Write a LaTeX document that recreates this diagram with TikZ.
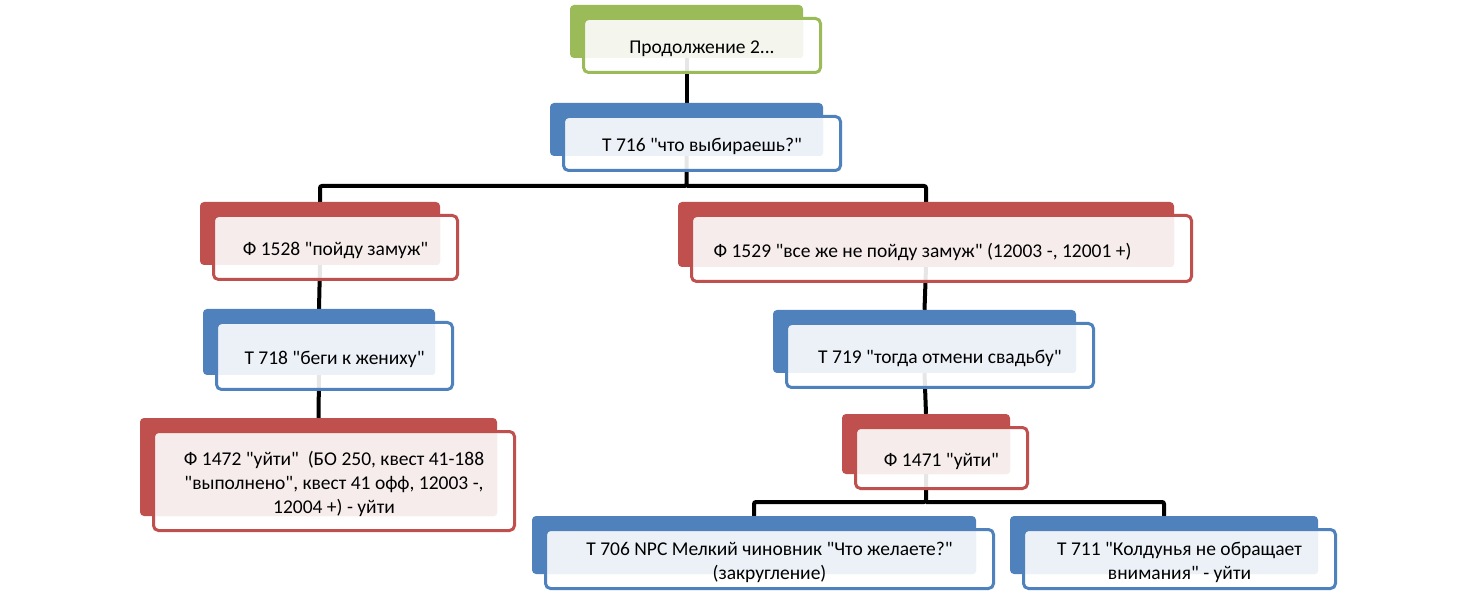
\documentclass[tikz,border=0pt]{standalone}
\usepackage{fontspec}
\setmainfont{Carlito}[Ligatures=TeXOff]
\usetikzlibrary{fit,backgrounds}
\definecolor{cgreen}{HTML}{9BBB59}
\definecolor{cblue}{HTML}{4F81BD}
\definecolor{cred}{HTML}{C0504D}
\definecolor{tgreen}{HTML}{F4F6EE}
\definecolor{tblue}{HTML}{ECF1F8}
\definecolor{tred}{HTML}{F6ECEC}
\tikzset{
  backbox/.style={inner sep=0pt, rounded corners=4pt, draw=none},
  frontline/.style={line width=3pt, rounded corners=5pt},
  textbox/.style={inner sep=0pt, align=center, font=\fontsize{19.5}{24}\selectfont},
  conn/.style={line width=4pt, black, rounded corners=2pt}
}
% name, colour, tint, bx1, by1, bx2, by2, text
\newcommand{\smartbox}[8]{%
  \node[backbox, fill=#2, fit={(#4,#5) (#6,#7)}] (#1b) {};
  \fill[white, fill opacity=0.9, rounded corners=5pt] (#4+13.5,#5+13.5) rectangle (#6+17.5,#7+14.5);
  \fill[#3, rounded corners=3pt] (#4+15,#5+14) rectangle (#6,#7);
  \draw[frontline, #2] (#4+13.5,#5+13.5) rectangle (#6+17.5,#7+14.5);
  \node[textbox, yshift=-3pt] (#1) at ({(#4+#6)/2+15.5},{(#5+#7)/2+14}) {#8};
}
\begin{document}
\begin{tikzpicture}[x=1pt,y=-1pt]
\useasboundingbox (0,0) rectangle (1475,593);
\smartbox{top}{cgreen}{tgreen}{570}{5}{803}{58}{Продолжение 2...}
\smartbox{ta}{cblue}{tblue}{550}{103}{823}{156}{Т 716 "что выбираешь?"}
\smartbox{fa}{cred}{tred}{200}{202}{440}{265}{Ф 1528 "пойду замуж"}
\smartbox{fb}{cred}{tred}{678}{202}{1174}{267}{Ф 1529 "все же не пойду замуж" (12003 -, 12001 +)\hspace*{38pt}}
\smartbox{tb}{cblue}{tblue}{203}{309}{435}{375}{Т 718 "беги к жениху"}
\smartbox{tc}{cblue}{tblue}{773}{310}{1076}{373}{Т 719 "тогда отмени свадьбу"}
\smartbox{fc}{cred}{tred}{140}{418}{497}{516}{Ф 1472 "уйти"\ \ (БО 250, квест 41-188\\"выполнено", квест 41 офф, 12003 -,\\12004 +) - уйти}
\smartbox{fd}{cred}{tred}{842}{414}{1010}{474}{Ф 1471 "уйти"}
\smartbox{td}{cblue}{tblue}{532}{516}{976}{574}{Т 706 NPC Мелкий чиновник "Что желаете?"\\(закругление)}
\smartbox{te}{cblue}{tblue}{1010}{516}{1318}{574}{Т 711 "Колдунья не обращает\\внимания" - уйти}
\coordinate (busa) at (0,186);
\coordinate (busb) at (0,502);
\begin{pgfonlayer}{background}
\draw[conn] (topb.south) -- (tab.north);
\draw[conn] (tab.south) -- (tab.south |- busa) -| (fab.north);
\draw[conn] (tab.south |- busa) -| (fbb.north);
\draw[conn] (fab.south) -- (tbb.north);
\draw[conn] (tbb.south) -- (fcb.north);
\draw[conn] (fbb.south) -- (tcb.north);
\draw[conn] (tcb.south) -- (fdb.north);
\draw[conn] (fdb.south) -- (fdb.south |- busb) -| (tdb.north);
\draw[conn] (fdb.south |- busb) -| (teb.north);
\end{pgfonlayer}
\end{tikzpicture}
\end{document}
